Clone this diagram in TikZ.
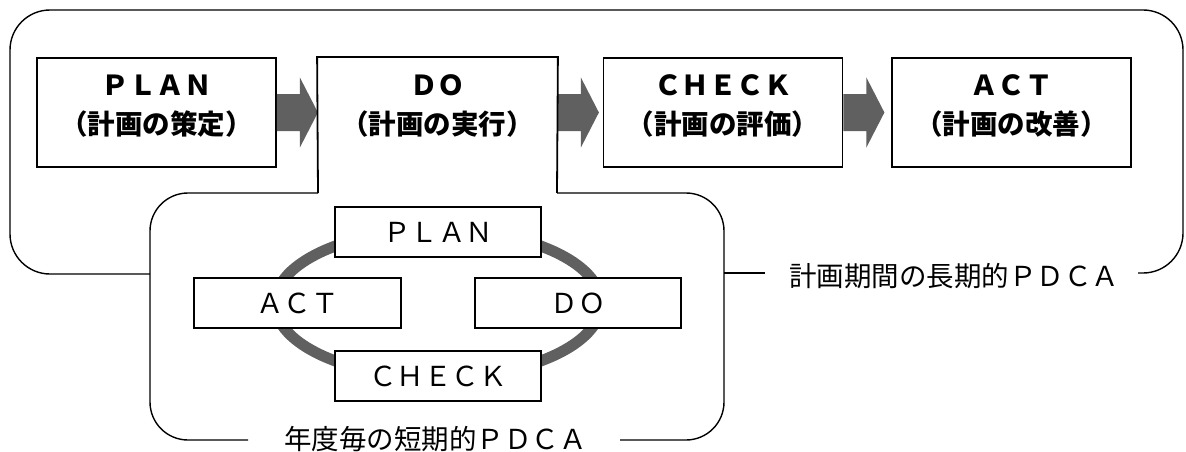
\documentclass[tikz,border=0pt]{standalone}
\usepackage{fontspec}
\newfontfamily\jp{Noto Sans CJK JP}
\usetikzlibrary{calc}
\definecolor{ringgray}{RGB}{96,96,96}
\newcommand\blkarrow[1]{%
  \fill[ringgray] ($(#1)+(0,-18.5)$) -- ++(23,0) -- ++(0,-16.5) -- ++(18,35)
    -- ++(-18,35) -- ++(0,-16.5) -- ++(-23,0) -- cycle;}
\begin{document}
\begin{tikzpicture}[x=1pt,y=-1pt,
  topbox/.style={draw, line width=1.8pt, minimum width=239pt, minimum height=109pt, inner sep=0pt},
  toptext/.style={align=center, inner sep=0pt, font=\jp\bfseries\fontsize{27.5}{39}\selectfont},
  smallbox/.style={draw, line width=1.8pt, fill=white, minimum width=206pt, minimum height=50pt, inner sep=0pt, font=\jp\fontsize{27.5}{33}\selectfont},
  framelabel/.style={inner sep=0pt, font=\jp\fontsize{27.5}{33}\selectfont},
  frameline/.style={line width=1.4pt}]
\useasboundingbox (0,0) rectangle (1186,452);
% long-term frame
\draw[frameline, rounded corners=40pt] (1138,273) -- (1183,273) -- (1183,10) -- (10,10) -- (10,274) -- (150,274);
\node[framelabel] (longlabel) at (954,276) {計画期間の長期的ＰＤＣＡ};
\draw[frameline] (724,273) -- (765,273);
% top boxes
\node[topbox] (plan) at (156.5,112.5) {};
\node[topbox, draw=none] (do) at (437.5,112.5) {};
\node[topbox] (check) at (723,112.5) {};
\node[topbox] (act) at (1011.5,112.5) {};
\node[toptext] (plantext) at (156.5,106) {ＰＬＡＮ\\（計画の策定）};
\node[toptext] (dotext) at (437.5,106) {ＤＯ\\（計画の実行）};
\node[toptext] (checktext) at (723,106) {ＣＨＥＣＫ\\（計画の評価）};
\node[toptext] (acttext) at (1011.5,106) {ＡＣＴ\\（計画の改善）};
\blkarrow{plan.east}
\blkarrow{do.east}
\blkarrow{check.east}
% short-term frame joined with DO box
\draw[frameline, rounded corners=38pt] (248,440) -- (150,440) -- (150,193) -- (318,193);
\draw[line width=1.8pt] (318,193) -- (do.north west) -- (do.north east) -- (557,193);
\draw[frameline, rounded corners=38pt] (557,193) -- (724,193) -- (724,440) -- (620,440);
\node[framelabel] (shortlabel) at (435.5,439) {年度毎の短期的ＰＤＣＡ};
% cycle ring
\draw[ringgray, line width=11pt] (438,303.5) ellipse [x radius=163pt, y radius=74pt];
\node[smallbox] (splan) at (438,232) {ＰＬＡＮ};
\node[smallbox, minimum width=207pt] (sact) at (297.5,303) {ＡＣＴ};
\node[smallbox] (sdo) at (578,303) {ＤＯ};
\node[smallbox] (scheck) at (438,376) {ＣＨＥＣＫ};
\end{tikzpicture}
\end{document}
